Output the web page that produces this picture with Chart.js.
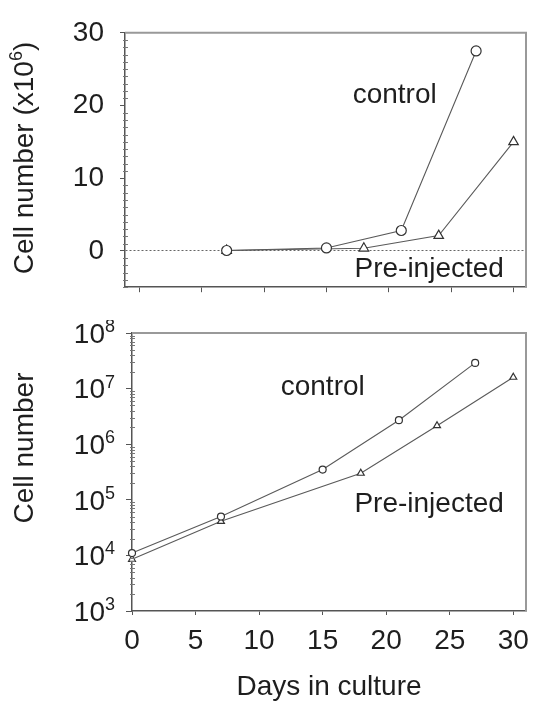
<!DOCTYPE html>
<html>
<head>
<meta charset="utf-8">
<script src="https://cdn.jsdelivr.net/npm/chart.js@4.4.0/dist/chart.umd.min.js"></script>
<style>
  html, body { margin: 0; padding: 0; background: #fff; }
  canvas { display: block; }
</style>
</head>
<body>
<canvas id="topChart" width="545" height="320"></canvas>
<canvas id="logChart" width="545" height="381"></canvas>
<script>
// days on the x axis (both panels)
const xTicks = [0, 5, 10, 15, 20, 25, 30];

// upper panel: cell number x10^6, linear
const topYTicks = [0, 10, 20, 30];
const topControlDays = [7, 15, 21, 27];
const topControlCells = [0.05, 0.4, 2.8, 27.5];
const topPreDays = [7, 18, 24, 30];
const topPreCells = [0.04, 0.35, 2.1, 15];

// lower panel: cell number, log scale
const logYPowers = [3, 4, 5, 6, 7, 8];
const logControlDays = [0, 7, 15, 21, 27];
const logControlCells = [1.1e4, 5.0e4, 3.5e5, 2.7e6, 2.9e7];
const logPreDays = [0, 7, 18, 24, 30];
const logPreCells = [8.5e3, 4.1e4, 3.0e5, 2.15e6, 1.6e7];

// text labels inside the plots: [text, day, value]
const topNotes = [['control', 17.1, 21.4], ['Pre-injected', 17.25, -2.55]];
const logNotes = [['control', 11.7, 1.07e7], ['Pre-injected', 17.5, 8.3e4]];

const family = '"Liberation Sans", Arial, sans-serif';
const textColor = '#1e1e1e';
Chart.defaults.font.family = family;
Chart.defaults.color = textColor;

function pts(days, vals) {
  return days.map((d, i) => ({ x: d, y: vals[i] }));
}

function series(days, vals, style, radius) {
  return {
    data: pts(days, vals),
    showLine: true,
    borderColor: '#5a5a5a',
    borderWidth: 1.1,
    pointStyle: style,
    pointRadius: radius,
    pointBackgroundColor: '#fff',
    pointBorderColor: '#333',
    pointBorderWidth: 1.2,
    clip: 8
  };
}

// light grey top and right edges of the box
const framePlugin = {
  id: 'frame',
  afterDraw(chart) {
    const a = chart.chartArea, ctx = chart.ctx;
    ctx.save();
    ctx.strokeStyle = '#999';
    ctx.lineWidth = 2;
    ctx.beginPath();
    ctx.moveTo(a.left, a.top);
    ctx.lineTo(a.right, a.top);
    ctx.lineTo(a.right, a.bottom);
    ctx.stroke();
    ctx.restore();
  }
};

function drawNotes(chart, notes) {
  const ctx = chart.ctx, xs = chart.scales.x, ys = chart.scales.y;
  ctx.save();
  ctx.font = '28px ' + family;
  ctx.fillStyle = textColor;
  ctx.textAlign = 'left';
  ctx.textBaseline = 'middle';
  notes.forEach(n => ctx.fillText(n[0], xs.getPixelForValue(n[1]), ys.getPixelForValue(n[2])));
  ctx.restore();
}

function drawMinor(chart, values) {
  const ctx = chart.ctx, ys = chart.scales.y, x0 = chart.chartArea.left;
  ctx.save();
  ctx.strokeStyle = '#777';
  ctx.lineWidth = 1;
  ctx.beginPath();
  values.forEach(v => {
    const py = Math.round(ys.getPixelForValue(v)) + 0.5;
    ctx.moveTo(x0 - 2, py);
    ctx.lineTo(x0 + 3, py);
  });
  ctx.stroke();
  ctx.restore();
}

function drawYTitle(chart, cx, cy, main, sup, tail) {
  const ctx = chart.ctx;
  ctx.save();
  ctx.translate(cx, cy);
  ctx.rotate(-Math.PI / 2);
  ctx.fillStyle = textColor;
  ctx.textBaseline = 'middle';
  ctx.textAlign = 'left';
  ctx.font = '28px ' + family;
  const w1 = ctx.measureText(main).width;
  const w3 = tail ? ctx.measureText(tail).width : 0;
  ctx.font = '18px ' + family;
  const w2 = sup ? ctx.measureText(sup).width : 0;
  let x = -(w1 + w2 + w3) / 2;
  ctx.font = '28px ' + family;
  ctx.fillText(main, x, 0);
  x += w1;
  if (sup) {
    ctx.font = '18px ' + family;
    ctx.fillText(sup, x, -8);
    x += w2;
  }
  if (tail) {
    ctx.font = '28px ' + family;
    ctx.fillText(tail, x, 0);
  }
  ctx.restore();
}

// ---------- upper panel ----------
const topMinor = [];
for (let v = -5; v <= 30; v++) if (v % 10 !== 0) topMinor.push(v);

new Chart(document.getElementById('topChart'), {
  type: 'scatter',
  data: {
    datasets: [
      series(topControlDays, topControlCells, 'circle', 5),
      series(topPreDays, topPreCells, 'triangle', 5.5)
    ]
  },
  options: {
    responsive: false,
    animation: false,
    layout: { padding: { top: 14, right: 19, left: 0, bottom: 0 } },
    plugins: { legend: { display: false }, tooltip: { enabled: false } },
    scales: {
      x: {
        type: 'linear', min: -1.15, max: 31,
        afterBuildTicks: s => { s.ticks = xTicks.map(v => ({ value: v })); },
        afterFit: s => { s.height = 25; },
        ticks: { display: false },
        grid: { drawOnChartArea: false, tickLength: 5, tickColor: '#555' },
        border: { color: '#555', width: 1.5 }
      },
      y: {
        type: 'linear', min: -5, max: 30,
        afterBuildTicks: s => { s.ticks = topYTicks.map(v => ({ value: v })); },
        afterFit: s => { s.width = 125; },
        ticks: { font: { size: 28 }, padding: 16, color: textColor },
        grid: {
          drawOnChartArea: true,
          color: c => (c.tick && c.tick.value === 0 ? '#666' : 'rgba(0,0,0,0)'),
          tickColor: '#555', tickLength: 5
        },
        border: { color: '#555', width: 1.5, dash: [2, 2] }
      }
    }
  },
  plugins: [framePlugin, {
    id: 'topText',
    afterDraw(chart) {
      drawMinor(chart, topMinor);
      drawNotes(chart, topNotes);
      drawYTitle(chart, 25, 158, 'Cell number (x10', '6', ')');
    }
  }]
});

// ---------- lower panel ----------
const logMinor = [];
for (let p = 3; p < 8; p++) for (let m = 2; m <= 9; m++) logMinor.push(m * Math.pow(10, p));

new Chart(document.getElementById('logChart'), {
  type: 'scatter',
  data: {
    datasets: [
      series(logControlDays, logControlCells, 'circle', 3.5),
      series(logPreDays, logPreCells, 'triangle', 4)
    ]
  },
  options: {
    responsive: false,
    animation: false,
    layout: { padding: { top: 13, right: 19, left: 0, bottom: 0 } },
    plugins: { legend: { display: false }, tooltip: { enabled: false } },
    scales: {
      x: {
        type: 'linear', min: 0, max: 31,
        afterBuildTicks: s => { s.ticks = xTicks.map(v => ({ value: v })); },
        afterFit: s => { s.height = 90; },
        ticks: { font: { size: 28 }, padding: 9, color: textColor, maxRotation: 0 },
        grid: { drawOnChartArea: false, tickLength: 4, tickColor: '#555' },
        border: { color: '#555', width: 1.5 },
        title: {
          display: true, text: 'Days in culture', color: textColor,
          font: { size: 28, lineHeight: 1 }, padding: { top: 0, bottom: 0 }
        }
      },
      y: {
        type: 'logarithmic', min: 1e3, max: 1e8,
        afterBuildTicks: s => { s.ticks = logYPowers.map(p => ({ value: Math.pow(10, p), major: true })); },
        afterFit: s => { s.width = 132; },
        ticks: { display: false },
        grid: { drawOnChartArea: false, tickLength: 6, tickColor: '#555' },
        border: { color: '#555', width: 1.5 }
      }
    }
  },
  plugins: [framePlugin, {
    id: 'logText',
    afterDraw(chart) {
      const ctx = chart.ctx, ys = chart.scales.y;
      const right = chart.chartArea.left - 17;
      drawMinor(chart, logMinor);
      ctx.save();
      ctx.fillStyle = textColor;
      ctx.textBaseline = 'middle';
      ctx.textAlign = 'right';
      logYPowers.forEach(p => {
        const py = ys.getPixelForValue(Math.pow(10, p)) + 2;
        ctx.font = '18px ' + family;
        const sw = ctx.measureText(String(p)).width;
        ctx.fillText(String(p), right, py - 8);
        ctx.font = '28px ' + family;
        ctx.fillText('10', right - sw, py);
      });
      ctx.restore();
      drawNotes(chart, logNotes);
      drawYTitle(chart, 25, 128, 'Cell number', '', '');
    }
  }]
});
</script>
</body>
</html>
